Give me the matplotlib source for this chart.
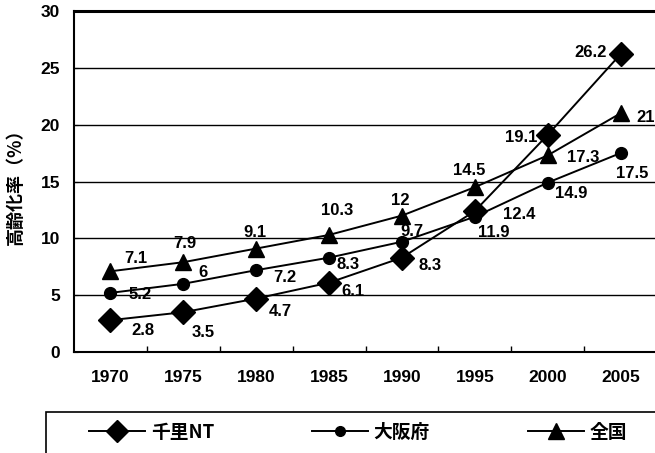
import matplotlib
matplotlib.use("Agg")
import matplotlib.pyplot as plt
from matplotlib.lines import Line2D
from matplotlib.patches import Rectangle

plt.rcParams['font.family'] = ['Liberation Sans', 'Noto Sans CJK JP', 'DejaVu Sans']

years = ['1970', '1975', '1980', '1985', '1990', '1995', '2000', '2005']
senri_nt = [2.8, 3.5, 4.7, 6.1, 8.3, 12.4, 19.1, 26.2]
osaka = [5.2, 6, 7.2, 8.3, 9.7, 11.9, 14.9, 17.5]
zenkoku = [7.1, 7.9, 9.1, 10.3, 12, 14.5, 17.3, 21]
series_names = ['千里NT', '大阪府', '全国']
y_ticks = [0, 5, 10, 15, 20, 25, 30]

# label offsets in pixels (dx right, dy down) for each point
senri_off = [(33, 10), (20, 20), (24, 13), (24, 9), (28, 8), (44, 3), (-27, 3), (-30, -2)]
osaka_off = [(30, 2), (20, -11), (29, 7), (19, 7), (10, -10), (19, 16), (23, 11), (12, 20)]
zenkoku_off = [(25, -13), (2, -19), (-1, -16), (8, -24), (-2, -15), (-6, -17), (35, 2), (25, 4)]

W, H = 655, 453
fig = plt.figure(figsize=(W / 100, H / 100), dpi=100)
ax = fig.add_axes([74 / W, 1 - 352 / H, (657 - 74) / W, (352 - 11) / H])

x = list(range(len(years)))
styles = [
    (senri_nt, 'D', 12.5, senri_off),
    (osaka, 'o', 8.5, osaka_off),
    (zenkoku, '^', 12, zenkoku_off),
]
for vals, mk, ms, offs in styles:
    ax.plot(x, vals, color='black', lw=1.4, marker=mk, markersize=ms,
            markerfacecolor='black', markeredgecolor='black', clip_on=False, zorder=3)
    for xi, v, (dx, dy) in zip(x, vals, offs):
        ax.annotate(f'{v:g}', (xi, v), xytext=(dx * 0.72, -dy * 0.72),
                    textcoords='offset points', ha='center', va='center',
                    fontsize=12, fontweight='bold', annotation_clip=False, zorder=4)

ax.set_xlim(-0.5, len(years) - 0.5)
ax.set_ylim(0, 30)
ax.set_yticks(y_ticks)
ax.set_yticklabels([str(t) for t in y_ticks], fontsize=12.5, fontweight='bold')
ax.set_xticks(x)
ax.set_xticklabels(years, fontsize=12.5, fontweight='bold')
ax.set_xticks([i + 0.5 for i in x[:-1]], minor=True)
ax.tick_params(axis='x', which='major', length=0, pad=13)
ax.tick_params(axis='x', which='minor', direction='in', length=4, width=1)
ax.tick_params(axis='y', which='major', direction='in', length=3, pad=10)
ax.grid(axis='y', color='black', lw=1.0)
ax.set_axisbelow(True)
for s in ['left', 'bottom']:
    ax.spines[s].set_linewidth(1.5)
ax.spines['top'].set_linewidth(2.2)
ax.spines['right'].set_visible(False)

fig.text(15 / W, 1 - 182 / H, '高齢化率（%）', rotation=90, ha='center', va='center',
         fontsize=13, fontweight='bold', family=['Noto Sans CJK JP', 'DejaVu Sans'])

# legend box
fig.patches.append(Rectangle((46 / W, -0.1), 1.0, 1 - 412 / H + 0.1,
                             transform=fig.transFigure, fill=False, lw=1.2,
                             edgecolor='black'))
handles = [
    Line2D([], [], color='black', lw=1.4, marker='D', markersize=11.5),
    Line2D([], [], color='black', lw=1.4, marker='o', markersize=7),
    Line2D([], [], color='black', lw=1.4, marker='^', markersize=11.5),
]
fig.legend(handles, series_names, loc='center', bbox_to_anchor=(358 / W, 1 - 432 / H),
           ncol=3, frameon=False, handlelength=3.0, columnspacing=5.2, handletextpad=0.3,
           prop={'family': ['Noto Sans CJK JP', 'DejaVu Sans'], 'weight': 'bold', 'size': 13.5})

fig.savefig('out.png', dpi=100)
